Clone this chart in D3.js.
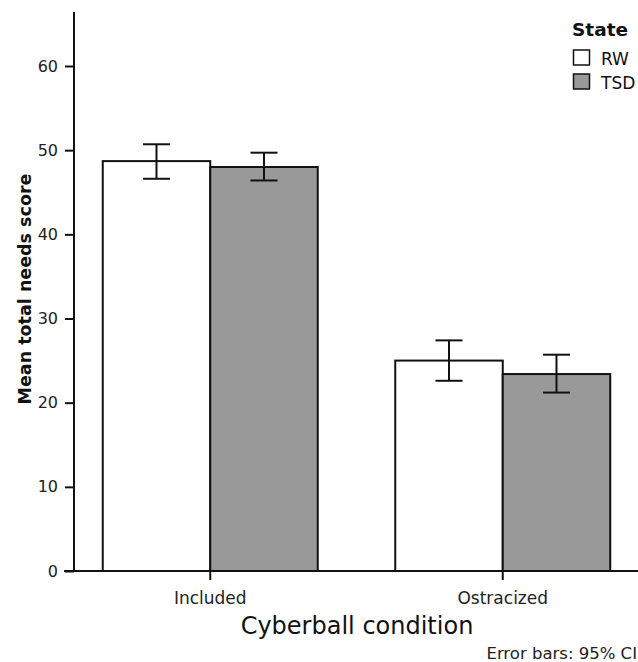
<!DOCTYPE html>
<html>
<head>
<meta charset="utf-8">
<script src="https://cdn.jsdelivr.net/npm/d3@7"></script>
<style>
  body { margin: 0; background: #fff; }
  svg { display: block; font-family: "DejaVu Sans", Verdana, sans-serif; }
</style>
</head>
<body>
<svg id="chart"></svg>
<script>
// Data
const conditions = ['Included', 'Ostracized'];
const states = ['RW', 'TSD'];
const means = [[48.7, 48.0], [25.0, 23.4]];
const ciLow = [[46.6, 46.4], [22.6, 21.2]];
const ciHigh = [[50.7, 49.7], [27.4, 25.7]];
const yTicks = [0, 10, 20, 30, 40, 50, 60];

const width = 638, height = 662;
const svg = d3.select('#chart').attr('width', width).attr('height', height);

const colors = { RW: '#ffffff', TSD: '#999999' };

const y = d3.scaleLinear().domain([0, 60]).range([571, 66]);
const x0 = d3.scaleBand().domain(conditions).range([64, 649])
    .paddingInner(0.265).paddingOuter(0.1325);
const x1 = d3.scaleBand().domain(states).range([0, x0.bandwidth()]);

// Bars
const groups = svg.append('g')
    .selectAll('g')
    .data(conditions)
    .join('g')
    .attr('transform', d => `translate(${x0(d)},0)`);

groups.selectAll('rect')
    .data((c, i) => states.map((s, j) => ({ s, v: means[i][j] })))
    .join('rect')
    .attr('x', d => x1(d.s))
    .attr('y', d => y(d.v))
    .attr('width', x1.bandwidth())
    .attr('height', d => y(0) - y(d.v))
    .attr('fill', d => colors[d.s])
    .attr('stroke', '#111')
    .attr('stroke-width', 2);

// Error bars (95% CI)
const eb = groups.selectAll('g.err')
    .data((c, i) => states.map((s, j) => ({ s, lo: ciLow[i][j], hi: ciHigh[i][j] })))
    .join('g')
    .attr('class', 'err')
    .attr('transform', d => `translate(${x1(d.s) + x1.bandwidth() / 2},0)`)
    .attr('stroke', '#111')
    .attr('stroke-width', 2);
eb.append('line').attr('y1', d => y(d.lo)).attr('y2', d => y(d.hi));
eb.append('line').attr('x1', -13.5).attr('x2', 13.5).attr('y1', d => y(d.hi)).attr('y2', d => y(d.hi));
eb.append('line').attr('x1', -13.5).attr('x2', 13.5).attr('y1', d => y(d.lo)).attr('y2', d => y(d.lo));

// Y axis
const yAxis = svg.append('g')
    .attr('transform', 'translate(74,0)')
    .call(d3.axisLeft(y).tickValues(yTicks).tickSize(9).tickPadding(7));
yAxis.select('.domain').remove();
yAxis.append('line').attr('y1', 12).attr('y2', 571).attr('stroke', '#111').attr('stroke-width', 2);
yAxis.selectAll('.tick line').attr('stroke', '#111').attr('stroke-width', 2);
yAxis.selectAll('.tick text')
    .attr('fill', '#222')
    .style('font-size', '16px')
    .style('font-family', '"DejaVu Sans", Verdana, sans-serif');

// X axis
const xAxis = svg.append('g')
    .attr('transform', 'translate(0,571)')
    .call(d3.axisBottom(x0).tickSize(9).tickPadding(12));
xAxis.select('.domain').remove();
xAxis.append('line').attr('x1', 64).attr('x2', 638).attr('stroke', '#111').attr('stroke-width', 2);
xAxis.selectAll('.tick line').attr('stroke', '#111').attr('stroke-width', 2);
xAxis.selectAll('.tick text')
    .attr('fill', '#222')
    .style('font-size', '17px')
    .style('font-family', '"DejaVu Sans", Verdana, sans-serif');

// Axis titles
svg.append('text')
    .attr('transform', 'translate(31,289) rotate(-90)')
    .attr('text-anchor', 'middle')
    .attr('font-size', '17.5px')
    .attr('font-weight', 'bold')
    .attr('fill', '#111')
    .text('Mean total needs score');

svg.append('text')
    .attr('x', 357)
    .attr('y', 634)
    .attr('text-anchor', 'middle')
    .attr('font-size', '24px')
    .attr('fill', '#111')
    .text('Cyberball condition');

svg.append('text')
    .attr('x', 637)
    .attr('y', 659)
    .attr('text-anchor', 'end')
    .attr('font-size', '16.5px')
    .attr('fill', '#222')
    .text('Error bars: 95% CI');

// Legend
const legend = svg.append('g').attr('transform', 'translate(572,0)');
legend.append('text')
    .attr('x', 0)
    .attr('y', 36)
    .attr('font-size', '18.5px')
    .attr('font-weight', 'bold')
    .attr('fill', '#111')
    .text('State');
states.forEach((s, i) => {
    legend.append('rect')
        .attr('x', 1.5)
        .attr('y', 50 + i * 24)
        .attr('width', 16)
        .attr('height', 15)
        .attr('fill', colors[s])
        .attr('stroke', '#111')
        .attr('stroke-width', 1.5);
    legend.append('text')
        .attr('x', 29)
        .attr('y', 65 + i * 24)
        .attr('font-size', '17px')
        .attr('fill', '#111')
        .text(s);
});
</script>
</body>
</html>
